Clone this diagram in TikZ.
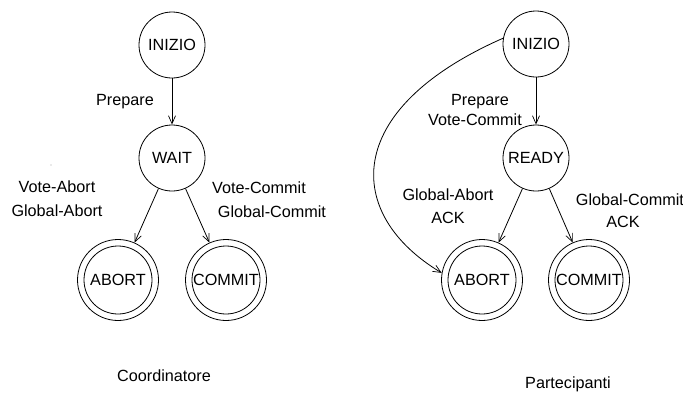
\documentclass[tikz,border=0pt]{standalone}
\usepackage{fontspec}
\setmainfont{Liberation Sans}
\usetikzlibrary{arrows.meta}
\begin{document}
\begin{tikzpicture}[x=1pt,y=-1pt,
  font=\fontsize{16.2}{19}\selectfont,
  line width=0.8pt,
  state/.style={draw,circle,minimum size=66pt,inner sep=0pt},
  final/.style={draw,circle,minimum size=81pt,inner sep=0pt,
    path picture={\draw[line width=0.8pt] (path picture bounding box.center) circle[radius=34pt];}},
  trans/.style={-{Straight Barb[length=8pt,width=7pt,line width=0.7pt]}},
  lbl/.style={anchor=base,inner sep=0pt}]
\useasboundingbox (0,0) rectangle (683,392);

% Coordinatore
\node[state] (c-inizio) at (172,45) {INIZIO};
\node[state] (c-wait) at (172,158) {WAIT};
\node[final] (c-abort) at (118,280) {ABORT};
\node[final] (c-commit) at (226,280) {COMMIT};

\draw[trans] (c-inizio) -- (c-wait);
\draw[trans] (c-wait) -- (c-abort);
\draw[trans] (c-wait) -- (c-commit);

\node[lbl] (c-l1) at (125,105.5) {Prepare};
\node[lbl] (c-l2) at (57,192.5) {Vote-Abort};
\node[lbl] (c-l3) at (57,216.5) {Global-Abort};
\node[lbl] (c-l4) at (259,193) {Vote-Commit};
\node[lbl] (c-l5) at (272,217) {Global-Commit};
\node[lbl] (c-title) at (164,381.5) {Coordinatore};
\fill[black!35] (51,165) circle[radius=0.7];

% Partecipanti
\node[state] (p-inizio) at (536,44) {INIZIO};
\node[state] (p-ready) at (536,158) {READY};
\node[final] (p-abort) at (482,280) {ABORT};
\node[final] (p-commit) at (589,280) {COMMIT};

\draw[trans] (p-inizio) -- (p-ready);
\draw[trans] (p-ready) -- (p-abort);
\draw[trans] (p-ready) -- (p-commit);
\draw[trans] (p-inizio.170) .. controls (340,110) and (345,215) .. (p-abort.170);

\node[lbl] (p-l1) at (480,105) {Prepare};
\node[lbl] (p-l2) at (475,125) {Vote-Commit};
\node[lbl] (p-l3) at (448,200) {Global-Abort};
\node[lbl] (p-l4) at (448,223) {ACK};
\node[lbl] (p-l5) at (630,205) {Global-Commit};
\node[lbl] (p-l6) at (623,227) {ACK};
\node[lbl] (p-title) at (568,388.5) {Partecipanti};
\end{tikzpicture}
\end{document}
